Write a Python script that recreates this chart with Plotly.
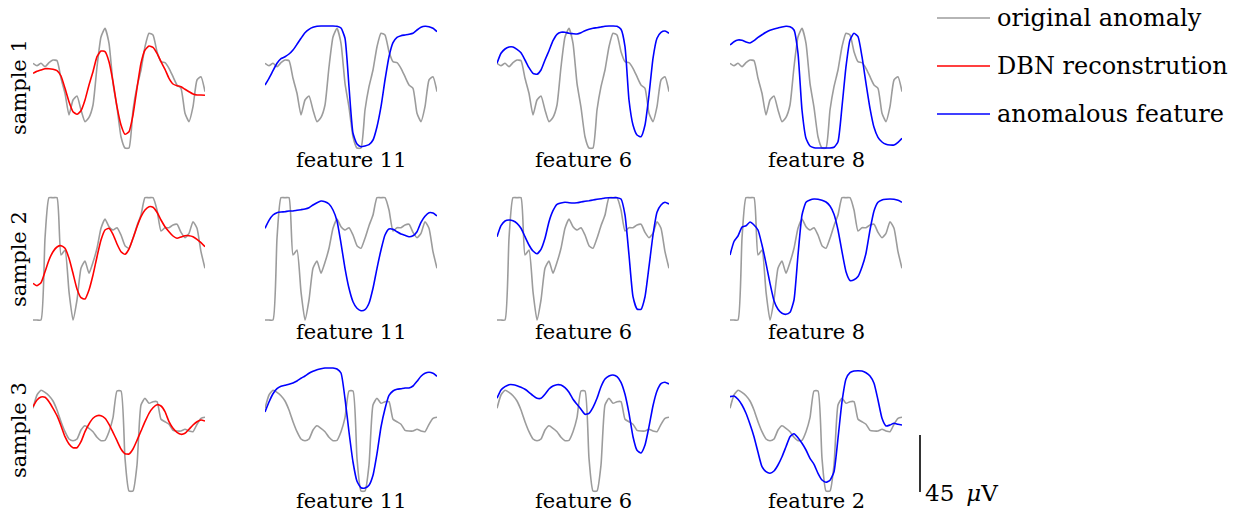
import plotly.graph_objects as go

# ---------------- data (amplitude in scaled units; 57 units = 45 uV) ----------------
t = list(range(44))  # time samples

gray_s1 = [84.7, 82.3, 84.7, 81.3, 85.3, 88, 87.3, 69.7, 54.7, 33, 48, 52, 38, 26.3, 30.7, 43,
           81, 111, 119.7, 104.7, 64.7, 40.7, 11.3, 0, 0, 38, 61.3, 78, 101.3, 114.7, 113,
           96.3, 86.3, 85.3, 79.7, 71.3, 63, 59.7, 34.7, 26.3, 41.3, 68, 71.3, 56.3]
red_s1 = [74.7, 76.7, 78, 79.3, 79.3, 78.7, 77.3, 72, 59.7, 46.3, 36.3, 33.7, 37.3, 48, 63, 76.3,
          91.3, 97, 96.3, 86.3, 66.3, 41.3, 23, 13.7, 16.3, 33, 59.7, 84.7, 98, 102, 100.7,
          94.7, 86.3, 78.7, 69.7, 64, 62.3, 61.3, 58.7, 56.3, 54, 53, 53, 52.7]
blue_s1_f11 = [63, 69.7, 77.3, 84.7, 89.3, 91.3, 94, 98, 103.7, 109.7, 115.3, 118.7, 120.7, 121.7,
               122, 122, 122, 122, 121.7, 120, 109.7, 61.3, 14.7, 4, 1.3, 2, 3.3, 8, 21.3, 41.3,
               68, 91.3, 105.3, 110.7, 112.3, 113, 113.7, 114.7, 118, 120.7, 121.7, 121.3, 119.7, 116.3]
blue_s1_f6 = [84.7, 94.7, 99, 101, 101, 98.7, 95.3, 88, 80.3, 74.7, 73.7, 78, 88, 97.3, 107.3,
              113.7, 115.7, 115.7, 114.7, 114.3, 114, 115.3, 117.3, 118.7, 119.7, 120.3, 121,
              121.7, 122, 122, 121.7, 118.7, 101.3, 48, 23, 13, 11.3, 23, 53, 89.7, 109.7, 115.7, 117, 114.7]
blue_s1_f8 = [103, 106.3, 108, 107.7, 106, 105, 107.3, 110.7, 113.3, 115.7, 117.7, 119, 120, 121,
              121.7, 121.3, 118, 94.7, 38, 9.7, 2, 0.3, 0, 0, 0, 0, 0.7, 6.3, 41.3, 81.3, 108,
              114.7, 111.3, 91.3, 64.7, 39.7, 20.7, 10.7, 6, 3.7, 3, 3, 5.7, 9.7]

gray_s2 = [0, 0, 0, 81.7, 122.3, 122.3, 122.3, 65, 70, 28.3, 0, 20, 51.7, 59, 46.7, 57.7, 71.7,
           91.7, 101, 93.3, 90, 92.3, 85, 74.3, 71.7, 81.7, 94.3, 105, 122.3, 122.3, 122.3, 110,
           89, 92.3, 92.3, 95, 95.7, 87.7, 82.3, 86.7, 98.3, 91.7, 68.3, 51.7]
red_s2 = [36.7, 34.3, 37.3, 48.3, 60, 68.3, 73, 74.3, 71.7, 61.7, 46.7, 31, 22.3, 21, 30, 45,
          63.3, 80, 90, 91.7, 85.7, 76, 68.3, 65.7, 71, 81.7, 93.3, 103.3, 110, 113.3, 112.7,
          107.7, 100, 93.3, 88.3, 84, 81.7, 83, 84.3, 84.3, 83.3, 80.7, 77.3, 73.3]
blue_s2_f11 = [91.7, 99.7, 105, 107.3, 108, 108.3, 109, 109, 109.7, 110.3, 111, 112.3, 115, 117.3,
               119, 118.3, 116, 110, 99, 76.7, 51.7, 31.7, 18.3, 11.7, 9.3, 10.3, 16.7, 31.7,
               51.7, 70, 85, 91, 90.7, 88.3, 86, 84.7, 83.3, 84.3, 88.3, 97.7, 103.7, 107.3, 107, 104]
blue_s2_f6 = [83.3, 94.3, 99, 100, 99.3, 96.7, 91.7, 83.3, 75, 69, 66.3, 70.7, 81.7, 98.3, 109.3,
              115.7, 117, 117.7, 117.3, 117, 117.3, 118, 118.7, 119.3, 120, 120.7, 121.3, 122,
              122.3, 122.3, 122.3, 121, 105, 65, 23.3, 11, 10.7, 23.3, 53.3, 85, 107.7, 115, 117.7, 116]
blue_s2_f8 = [65, 78.5, 84, 92.8, 94.2, 98, 95, 90, 75, 56.7, 36.7, 19.3, 10.7, 6.7, 5.7, 7.7, 20,
              65, 105, 117.7, 120, 121, 120.7, 119.7, 118, 114, 105.7, 90, 68.3, 48.3, 39.5,
              40.2, 43.5, 53, 66.7, 90, 109, 117.7, 120, 120.7, 121, 120.7, 119.7, 117.7]

gray_s3 = [82.7, 96, 100.7, 98.7, 95.3, 90, 81, 69.3, 59.3, 52, 50.3, 52, 61, 65.3, 62.7, 59.3,
           53.7, 50.3, 50.7, 59.3, 73.3, 100, 100, 32.7, 0, 0, 26, 86, 92.7, 87.7, 89.3, 89.3,
           71.7, 69.3, 66.7, 60.7, 60, 60, 61.7, 60, 59.3, 66.7, 72.7, 73.7]
red_s3 = [84.3, 91, 94, 93.7, 89.3, 82.7, 75.3, 65.3, 54.3, 47, 43.3, 43.3, 49.3, 59.3, 67, 72.7,
          75.3, 75.3, 72.7, 66.7, 58.7, 50.3, 42, 37.3, 37, 42, 50.7, 60, 69.3, 77.7, 83.3, 86.3,
          85, 79.3, 69.3, 62.7, 58.7, 56.7, 57.7, 61.7, 66, 69.3, 71, 70]
blue_s3_f11 = [79, 89, 97.3, 102.3, 104.7, 105.7, 106.7, 108, 110, 112.7, 115, 117.7, 119.7, 121.3,
               122.3, 123, 123, 123, 122, 118, 92.3, 59, 29, 9.7, 3.3, 3, 5.7, 15.7, 37.3, 64,
               82.3, 95.7, 100, 101.7, 102.3, 103, 103, 105, 109.7, 114.7, 117.7, 118.7, 117.7, 114.7]
blue_s3_f6 = [92.7, 101, 104.3, 106.3, 106.3, 105.3, 103.7, 101.7, 98.7, 95.3, 92.7, 92.7, 96.7,
              102, 105, 106.3, 106, 103.3, 98.7, 91.7, 86.7, 81.7, 76.7, 77.7, 83.7, 92.7, 104.3,
              112, 115, 116, 114.3, 108.7, 96.7, 77.7, 54.3, 40.7, 38, 46, 64.3, 85.3, 100, 107.3, 108.7, 107]
blue_s3_f2 = [94.3, 95, 91.7, 86, 77.7, 66.7, 54.3, 38.7, 24.3, 19.3, 17.7, 20, 26, 34.3, 44.3,
              54.3, 57.3, 53.3, 47.7, 41, 32.7, 26.7, 17.7, 11, 8.7, 10.7, 19.3, 52.7, 89.3, 112,
              118.3, 120, 120.3, 120, 118.3, 115, 107.7, 91, 72.7, 65, 66, 67.7, 66.7, 66]

sample_labels = ["sample 1", "sample 2", "sample 3"]
gray_rows = [gray_s1, gray_s2, gray_s3]
recon_rows = [red_s1, red_s2, red_s3]
feature_rows = [
    [("feature 11", blue_s1_f11), ("feature 6", blue_s1_f6), ("feature 8", blue_s1_f8)],
    [("feature 11", blue_s2_f11), ("feature 6", blue_s2_f6), ("feature 8", blue_s2_f8)],
    [("feature 11", blue_s3_f11), ("feature 6", blue_s3_f6), ("feature 2", blue_s3_f2)],
]
legend_names = ["original anomaly", "DBN reconstrution", "anomalous feature"]
SCALE_UV = 45
UNITS_PER_UV = 57 / 45

# ---------------- layout / style ----------------
W, H = 1243, 514
GRAY, RED, BLUE = "#9c9c9c", "#ff0000", "#0000ff"
FONT = "DejaVu Serif"
FS = 21
FS_LEG = 24
LW = 1.6
col_left = [33, 265, 497, 730]
panel_w = 172
row_bottom = [148, 320, 491]
YMIN, YMAX = -1.5, 124
LINE = dict(shape="spline", smoothing=0.5, width=LW)

fig = go.Figure()

def ax_name(i, kind):
    return kind if i == 1 else f"{kind}{i}"

idx = 0
for r in range(3):
    for c in range(4):
        idx += 1
        xa, ya = ax_name(idx, "x"), ax_name(idx, "y")
        left = col_left[c]
        bot = row_bottom[r] - YMIN
        top = row_bottom[r] - YMAX
        fig.add_trace(go.Scatter(x=t, y=gray_rows[r], mode="lines", xaxis=xa, yaxis=ya,
                                 line=dict(color=GRAY, **LINE), showlegend=False,
                                 hoverinfo="skip"))
        if c == 0:
            fig.add_trace(go.Scatter(x=t, y=recon_rows[r], mode="lines", xaxis=xa, yaxis=ya,
                                     line=dict(color=RED, **LINE), showlegend=False))
        else:
            name, vals = feature_rows[r][c - 1]
            fig.add_trace(go.Scatter(x=t, y=vals, mode="lines", xaxis=xa, yaxis=ya,
                                     line=dict(color=BLUE, **LINE), showlegend=False))
            if r < 2:
                ann_y, anchor = 1 - (row_bottom[r] + 12) / H, "middle"
            else:
                ann_y, anchor = 0.0, "bottom"
            fig.add_annotation(text=name, xref="paper", yref="paper",
                               x=(left + panel_w / 2) / W, y=ann_y, borderpad=0,
                               xanchor="center", yanchor=anchor, showarrow=False,
                               font=dict(family=FONT, size=FS, color="black"))
        fig.layout[("xaxis" if idx == 1 else f"xaxis{idx}")] = dict(
            domain=[left / W, (left + panel_w) / W], range=[0, 43], visible=False,
            anchor=ya)
        fig.layout[("yaxis" if idx == 1 else f"yaxis{idx}")] = dict(
            domain=[1 - bot / H, 1 - top / H], range=[YMIN, YMAX], visible=False,
            anchor=xa)
    fig.add_annotation(text=sample_labels[r], xref="paper", yref="paper",
                       x=19 / W, y=1 - (row_bottom[r] - 61) / H, textangle=-90,
                       xanchor="center", yanchor="middle", showarrow=False,
                       font=dict(family=FONT, size=FS, color="black"))

# legend (drawn manually)
for i, (name, col) in enumerate(zip(legend_names, [GRAY, RED, BLUE])):
    yy = 1 - (18 + 48 * i) / H
    fig.add_shape(type="line", xref="paper", yref="paper", x0=937 / W, x1=990 / W,
                  y0=yy, y1=yy, line=dict(color=col, width=LW))
    fig.add_annotation(text=name, xref="paper", yref="paper", x=995 / W, y=yy,
                       xanchor="left", yanchor="middle", showarrow=False,
                       font=dict(family=FONT, size=FS_LEG, color="black"))

# scale bar (45 uV) in sample-3 amplitude units
fig.add_shape(type="line", xref="paper", yref="y12", x0=920 / W, x1=920 / W,
              y0=-1, y1=-1 + SCALE_UV * UNITS_PER_UV, line=dict(color="black", width=LW))
fig.add_annotation(text="45 \u2009<i>μ</i>V", xref="paper", yref="paper", x=924 / W,
                   y=1 - 493 / H, xanchor="left", yanchor="middle", borderpad=0, showarrow=False,
                   font=dict(family=FONT, size=FS_LEG - 1, color="black"))

fig.update_layout(width=W, height=H, margin=dict(l=0, r=0, t=0, b=0),
                  plot_bgcolor="white", paper_bgcolor="white", showlegend=False)
fig.write_html("out.html")
